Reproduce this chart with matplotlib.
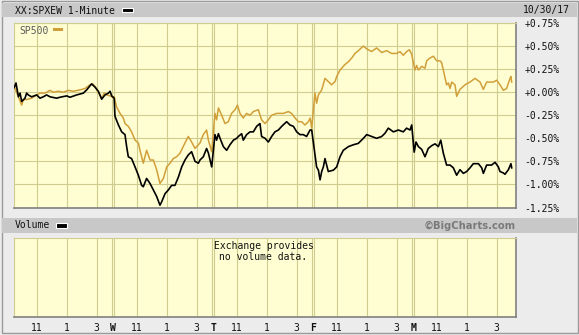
import matplotlib
matplotlib.use('Agg')
import matplotlib.pyplot as plt
from matplotlib.patches import Rectangle

W, H = 579, 335

# ---------------- data ----------------
day_letters = ['', 'W', 'T', 'F', 'M']          # Tue, Wed, Thu, Fri, Mon
hour_ticks = [11, 13, 15]
hour_labels = ['11', '1', '3']
y_ticks = [0.75, 0.5, 0.25, 0.0, -0.25, -0.5, -0.75, -1.0, -1.25]
y_labels = ['+0.75%', '+0.50%', '+0.25%', '+0.00%', '-0.25%', '-0.50%',
            '-0.75%', '-1.00%', '-1.25%']

# XX:SPXEW (black), clock hour per trading day and % change
spxew_clock = [
    [9.5, 9.62, 9.78, 9.89, 10.0, 10.22, 10.33, 10.44, 10.66, 11.0, 11.22, 11.44, 11.66, 11.89,
     12.33, 12.55, 13.0, 13.22, 13.66, 14.11, 14.33, 14.66, 14.89, 15.11, 15.33, 15.55, 15.78, 15.89, 16.0],
    [9.5, 9.55, 9.78, 10.0, 10.22, 10.33, 10.44, 10.66, 10.89, 11.11, 11.33, 11.44, 11.66, 11.89,
     12.11, 12.33, 12.55, 12.66, 12.89, 13.11, 13.33, 13.55, 13.78, 14.0, 14.22, 14.44, 14.66,
     14.89, 15.11, 15.22, 15.44, 15.66, 15.78, 16.0],
    [9.55, 9.66, 9.78, 9.89, 10.11, 10.33, 10.55, 10.78, 11.0, 11.11, 11.33, 11.44, 11.66, 11.89,
     12.11, 12.33, 12.55, 12.66, 12.89, 13.11, 13.33, 13.55, 13.78, 14.0, 14.33, 14.55, 14.78,
     15.0, 15.22, 15.44, 15.66, 15.89, 16.0],
    [9.55, 9.66, 9.78, 9.89, 10.0, 10.11, 10.22, 10.44, 10.78, 11.0, 11.22, 11.44, 11.78, 12.11,
     12.44, 12.78, 13.0, 13.33, 13.66, 14.0, 14.22, 14.44, 14.78, 15.11, 15.44, 15.66, 15.89, 16.0],
    [9.5, 9.62, 9.78, 10.0, 10.22, 10.44, 10.66, 10.89, 11.11, 11.27, 11.44, 11.66, 11.89, 12.11,
     12.33, 12.55, 12.78, 13.0, 13.22, 13.44, 13.78, 14.0, 14.11, 14.33, 14.66, 14.89, 15.11,
     15.22, 15.44, 15.55, 15.78, 15.95, 16.0],
]
spxew_pct = [
    [0.05, 0.10, -0.05, -0.01, -0.10, -0.065, -0.01, -0.03, -0.05, -0.03, -0.065, -0.05, -0.03, -0.05,
     -0.065, -0.055, -0.04, -0.055, -0.03, -0.01, 0.025, 0.09, 0.055, 0.01, -0.076, -0.03, -0.01, 0.01, -0.04],
    [-0.065, -0.26, -0.355, -0.43, -0.46, -0.59, -0.70, -0.72, -0.81, -0.90, -1.01, -1.025, -0.935, -0.99,
     -1.06, -1.13, -1.225, -1.19, -1.10, -1.06, -1.01, -1.01, -0.92, -0.81, -0.735, -0.68, -0.645,
     -0.75, -0.77, -0.735, -0.70, -0.61, -0.66, -0.81],
    [-0.46, -0.52, -0.45, -0.50, -0.59, -0.63, -0.57, -0.52, -0.50, -0.48, -0.45, -0.52, -0.46, -0.43,
     -0.43, -0.37, -0.34, -0.48, -0.50, -0.54, -0.48, -0.43, -0.41, -0.37, -0.32, -0.355, -0.37,
     -0.43, -0.46, -0.46, -0.48, -0.41, -0.41],
    [-0.68, -0.81, -0.845, -0.95, -0.86, -0.81, -0.72, -0.86, -0.845, -0.81, -0.70, -0.63, -0.59, -0.57,
     -0.555, -0.50, -0.46, -0.48, -0.50, -0.48, -0.445, -0.39, -0.43, -0.41, -0.43, -0.39, -0.41, -0.355],
    [-0.65, -0.54, -0.59, -0.62, -0.70, -0.61, -0.58, -0.56, -0.59, -0.52, -0.66, -0.79, -0.79, -0.82,
     -0.90, -0.84, -0.88, -0.86, -0.82, -0.775, -0.775, -0.82, -0.88, -0.79, -0.79, -0.76, -0.81,
     -0.86, -0.875, -0.89, -0.84, -0.775, -0.82],
]

# SP500 (gold)
sp500_clock = [
    [9.5, 9.66, 9.78, 10.0, 10.11, 10.33, 10.66, 11.0, 11.22, 11.55, 11.89, 12.11, 12.44, 12.78,
     13.11, 13.44, 13.89, 14.22, 14.55, 14.73, 14.89, 15.05, 15.22, 15.33, 15.5, 15.66, 15.89, 16.0],
    [9.5, 9.66, 9.89, 10.11, 10.22, 10.44, 10.66, 10.89, 11.11, 11.22, 11.44, 11.66, 11.89, 12.11,
     12.33, 12.55, 12.78, 13.0, 13.22, 13.44, 13.66, 13.89, 14.22, 14.44, 14.66, 14.89, 15.22,
     15.44, 15.66, 15.78, 16.0],
    [9.55, 9.66, 9.78, 10.0, 10.22, 10.44, 10.66, 10.89, 11.05, 11.22, 11.44, 11.66, 11.89, 12.11,
     12.44, 12.66, 12.89, 13.11, 13.33, 13.66, 14.11, 14.44, 14.66, 14.89, 15.11, 15.33, 15.55,
     15.78, 15.9, 16.0],
    [9.55, 9.66, 9.78, 10.0, 10.22, 10.44, 10.66, 10.89, 11.0, 11.22, 11.55, 11.78, 12.0, 12.22,
     12.44, 12.78, 13.0, 13.33, 13.66, 14.0, 14.33, 14.66, 15.0, 15.22, 15.44, 15.66, 15.85, 16.0],
    [9.55, 9.66, 9.78, 10.0, 10.22, 10.33, 10.55, 10.78, 11.0, 11.22, 11.33, 11.44, 11.66, 11.78,
     11.89, 12.0, 12.22, 12.33, 12.55, 12.89, 13.22, 13.55, 13.89, 14.11, 14.33, 14.78, 15.0,
     15.22, 15.44, 15.66, 15.89, 15.95, 16.0],
]
sp500_pct = [
    [0.06, 0.0, -0.05, -0.14, -0.08, -0.08, -0.065, -0.03, -0.01, -0.01, 0.02, 0.0, 0.01, 0.0,
     0.02, 0.01, 0.025, 0.04, 0.08, 0.09, 0.06, 0.01, -0.03, -0.065, -0.01, -0.03, -0.04, -0.05],
    [-0.05, -0.16, -0.23, -0.28, -0.34, -0.37, -0.43, -0.52, -0.55, -0.63, -0.77, -0.63, -0.735, -0.735,
     -0.84, -0.99, -0.935, -0.81, -0.77, -0.72, -0.70, -0.66, -0.55, -0.48, -0.54, -0.61, -0.55,
     -0.46, -0.41, -0.52, -0.645],
    [-0.23, -0.30, -0.17, -0.25, -0.34, -0.32, -0.23, -0.19, -0.14, -0.23, -0.28, -0.23, -0.25, -0.21,
     -0.19, -0.30, -0.34, -0.30, -0.25, -0.23, -0.23, -0.21, -0.23, -0.28, -0.32, -0.32, -0.355,
     -0.32, -0.28, -0.39],
    [-0.01, -0.12, -0.03, 0.025, 0.15, 0.115, 0.08, 0.115, 0.17, 0.24, 0.30, 0.33, 0.37, 0.42,
     0.45, 0.50, 0.47, 0.44, 0.48, 0.43, 0.45, 0.42, 0.42, 0.44, 0.40, 0.44, 0.46, 0.41],
    [0.24, 0.29, 0.24, 0.28, 0.26, 0.34, 0.37, 0.39, 0.34, 0.34, 0.32, 0.24, 0.08, 0.10,
     0.04, 0.11, 0.08, -0.045, 0.03, 0.08, 0.11, 0.15, 0.11, 0.03, 0.11, 0.11, 0.13,
     0.08, 0.02, 0.04, 0.15, 0.17, 0.11],
]

# ---------------- layout / style ----------------
OPEN, CLOSE = 9.5, 16.0
DAY_W = 100 / 15.0          # session units per trading day (incl. small gap)
BG = '#ececec'
HDR = '#c8c8c8'
PLOT_BG = '#fefed2'
GRID = '#d0cc90'
EDGE = '#808080'
GOLD = '#d19f3a'
MONO = 'DejaVu Sans Mono'


def xpos(d, h):
    return d * DAY_W + (h - OPEN)


def rect(x0, y0, x1, y1):
    return [x0 / W, 1 - y1 / H, (x1 - x0) / W, (y1 - y0) / H]


def frect(x0, y0, x1, y1, **kw):
    r = Rectangle((x0 / W, 1 - y1 / H), (x1 - x0) / W, (y1 - y0) / H,
                  transform=fig.transFigure, **kw)
    fig.patches.append(r)


def ftext(x, y, s, **kw):
    fig.text(x / W, 1 - y / H, s, **kw)


fig = plt.figure(figsize=(W / 100, H / 100), dpi=100)
fig.patch.set_facecolor(BG)

# outer frame and header bars
frect(1.5, 0.5, 577.5, 332.5, fill=False, ec='#9a9a9a', lw=1.0)
frect(2, 3.5, 577, 17, fc=HDR, ec='none')
frect(2, 217.5, 577, 233, fc=HDR, ec='none')

ftext(15, 10.5, 'XX:SPXEW 1-Minute', fontsize=7, family=MONO, va='center', ha='left', color='#111111')
frect(122, 7.5, 133, 12, fc='black', ec='white', lw=0.8)
ftext(570, 10.5, '10/30/17', fontsize=7, family=MONO, va='center', ha='right', color='#111111')

ftext(15, 225.5, 'Volume', fontsize=7, family=MONO, va='center', ha='left', color='#111111')
frect(56, 223, 67, 227.5, fc='black', ec='white', lw=0.8)
ftext(516, 225.5, '\u00a9BigCharts.com', fontsize=7.2, family='DejaVu Sans', weight='bold',
      va='center', ha='right', color='#7a7a7a')

x_lo, x_hi = -0.013, (516 - 14.2) / 15.0

vgrid = []
for d in range(len(day_letters)):
    for h in hour_ticks:
        vgrid.append(xpos(d, h))
    if d > 0:
        vgrid.append(xpos(d - 1, CLOSE))
        vgrid.append(xpos(d, OPEN))


def style_axes(ax):
    ax.set_facecolor(PLOT_BG)
    ax.set_xlim(x_lo, x_hi)
    for v in vgrid:
        ax.axvline(v, color=GRID, lw=0.8, zorder=1)
    for s in ('left', 'top'):
        ax.spines[s].set_color(GRID)
        ax.spines[s].set_linewidth(0.8)
    for s in ('right', 'bottom'):
        ax.spines[s].set_color(EDGE)
        ax.spines[s].set_linewidth(1.2)


# ---------------- main price panel ----------------
ax = fig.add_axes(rect(14, 23, 516, 207.5))
style_axes(ax)
ax.set_ylim(-1.25, 0.75)
for v in y_ticks:
    ax.axhline(v, color=GRID, lw=0.8, zorder=1)

sx, sy = [], []
for d in range(len(sp500_clock)):
    for h, v in zip(sp500_clock[d], sp500_pct[d]):
        sx.append(xpos(d, h)); sy.append(v)
ax.plot(sx, sy, color=GOLD, lw=1.1, zorder=3)

bx, by = [], []
for d in range(len(spxew_clock)):
    for h, v in zip(spxew_clock[d], spxew_pct[d]):
        bx.append(xpos(d, h)); by.append(v)
ax.plot(bx, by, color='black', lw=1.2, zorder=4)

ax.yaxis.tick_right()
ax.set_yticks(y_ticks)
ax.set_yticklabels(y_labels, family=MONO, fontsize=7, color='#111111')
ax.tick_params(axis='y', length=0, pad=6)
ax.set_xticks([])

ax.text(5 / 502, 1 - 7.5 / 184.5, 'SP500', transform=ax.transAxes, fontsize=7, family=MONO,
        color='#5a5a5a', va='center', ha='left')
frect(53, 28.5, 63, 31, fc=GOLD, ec='none')

# ---------------- volume panel ----------------
av = fig.add_axes(rect(14, 238, 516, 317))
style_axes(av)
av.set_ylim(0, 1)
av.set_yticks([])
av.text(0.497, 0.83, 'Exchange provides\nno volume data.', transform=av.transAxes, ha='center',
        va='center', fontsize=7, family=MONO, color='#111111', linespacing=1.15)

ticks, labels, bold = [], [], []
for d in range(len(day_letters)):
    if d > 0:
        ticks.append(xpos(d, OPEN) - 0.07); labels.append(day_letters[d]); bold.append(True)
    for h, lab in zip(hour_ticks, hour_labels):
        ticks.append(xpos(d, h)); labels.append(lab); bold.append(False)
av.set_xticks(ticks)
av.set_xticklabels(labels, family=MONO, fontsize=7, color='#111111')
for t, b in zip(av.get_xticklabels(), bold):
    if b:
        t.set_fontweight('bold')
av.tick_params(axis='x', length=0, pad=4)

fig.savefig('out.png', dpi=100, facecolor=BG)
